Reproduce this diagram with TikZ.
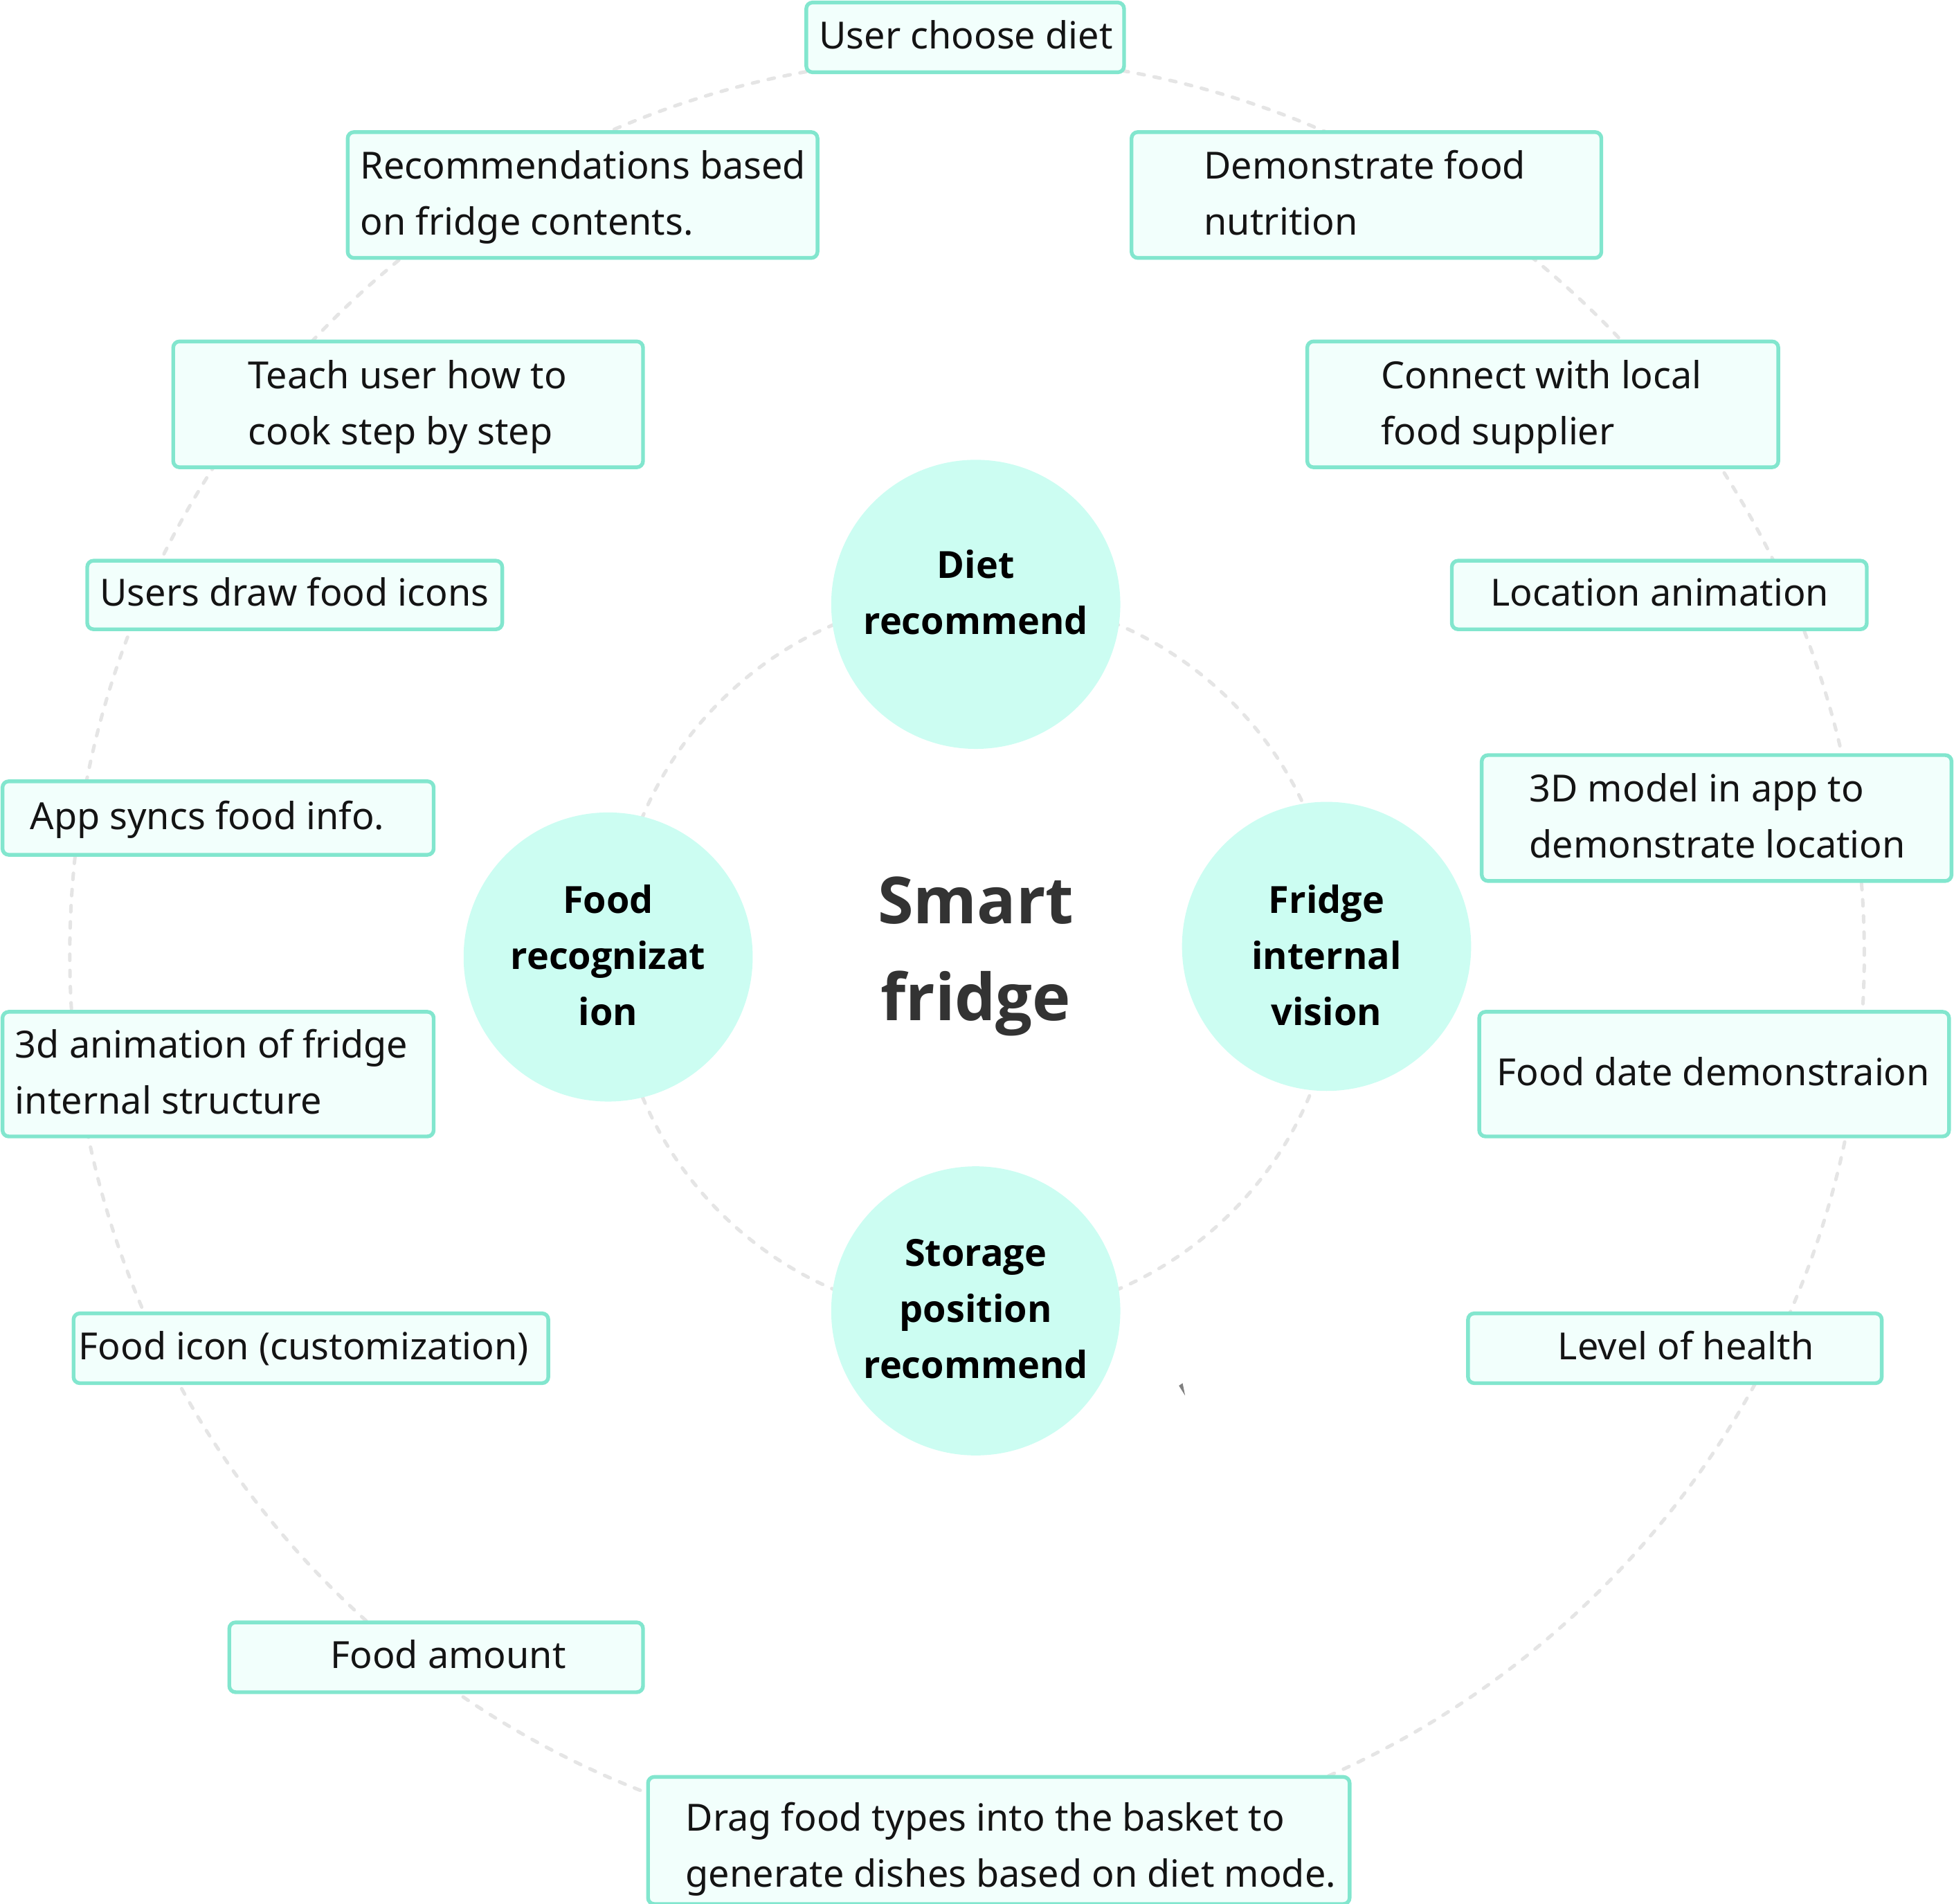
\documentclass[tikz,border=0pt]{standalone}
\usepackage{fontspec}
\setmainfont{Noto Sans}
\newfontfamily\hubfont{Open Sans}
\usetikzlibrary{positioning}
\definecolor{cardline}{RGB}{130,230,206}
\definecolor{cardfill}{RGB}{242,255,252}
\definecolor{hubfill}{RGB}{204,253,242}
\definecolor{ringgray}{RGB}{229,229,229}
\tikzset{
  card/.style={draw=cardline,fill=cardfill,line width=3pt,rounded corners=5pt,outer sep=0pt,inner sep=0pt},
  cardtext/.style={inner sep=0pt,align=left,text=black!92,font=\fontsize{30}{45}\selectfont,
    execute at begin node=\strut,execute at end node=\strut},
  twoline/.style={yshift=-5pt},
  hub/.style={circle,fill=hubfill,minimum size=232pt,inner sep=0pt},
  hubtext/.style={inner sep=0pt,align=center,text=black,font=\hubfont\fontsize{30}{45}\selectfont\bfseries,
    execute at begin node=\strut,execute at end node=\strut,yshift=-6pt},
  ring/.style={draw=ringgray,line width=2.8pt,line cap=round,dash pattern=on 5pt off 8pt},
}

\begin{document}
\begin{tikzpicture}[x=1pt,y=-1pt]
\useasboundingbox (0,0) rectangle (1568,1528);
% dashed rings
\draw[ring] (776,766) circle [radius=720pt];
\draw[ring] (783,768) circle [radius=290pt];
% the four hubs
\node[hub] (diet) at (783,485) {};
\node[hub] (recog) at (488,768) {};
\node[hub] (vision) at (1064.5,759.5) {};
\node[hub] (storage) at (783,1052) {};
\node[hubtext] (diettext) at (783,476) {Diet\\recommend};
\node[hubtext] (recogtext) at (488,767) {Food\\recognizat\\ion};
\node[hubtext] (visiontext) at (1064.5,767) {Fridge\\internal\\vision};
\node[hubtext] (storagetext) at (783,1051) {Storage\\position\\recommend};
\node[inner sep=0pt,align=center,text=black!80,font=\hubfont\fontsize{52}{78}\selectfont\bfseries,
  execute at begin node=\strut,execute at end node=\strut] (title) at (783,773) {Smart\\fridge};
% outer cards
\node[card,minimum width=255pt,minimum height=56pt] (userbox) at (774.5,30) {};
\node[cardtext,right=10pt of userbox.west] (usertext) {User choose diet};
\node[card,minimum width=377pt,minimum height=101pt] (recbox) at (467.5,156.5) {};
\node[cardtext,twoline,right=10pt of recbox.west] (rectext) {Recommendations based\\on fridge contents.};
\node[card,minimum width=377pt,minimum height=101pt] (nutribox) at (1096.5,156.5) {};
\node[cardtext,twoline,right=58pt of nutribox.west] (nutritext) {Demonstrate food\\nutrition};
\node[card,minimum width=377pt,minimum height=101pt] (cookbox) at (327.5,324.5) {};
\node[cardtext,twoline,right=60pt of cookbox.west] (cooktext) {Teach user how to\\cook step by step};
\node[card,minimum width=378pt,minimum height=101pt] (supplybox) at (1238,324.5) {};
\node[cardtext,twoline,right=59pt of supplybox.west] (supplytext) {Connect with local\\food supplier};
\node[card,minimum width=333pt,minimum height=55pt] (iconbox) at (236.5,477.5) {};
\node[cardtext,right=10pt of iconbox.west] (icontext) {Users draw food icons};
\node[card,minimum width=333pt,minimum height=55pt] (locbox) at (1331.5,477.5) {};
\node[cardtext,right=31pt of locbox.west] (loctext) {Location animation};
\node[card,minimum width=346pt,minimum height=59pt] (syncbox) at (175,656.5) {};
\node[cardtext,right=22pt of syncbox.west] (synctext) {App syncs food info.};
\node[card,minimum width=377pt,minimum height=101pt] (modelbox) at (1377.5,656.5) {};
\node[cardtext,twoline,right=38pt of modelbox.west] (modeltext) {3D model in app to\\demonstrate location};
\node[card,minimum width=346pt,minimum height=100pt] (animbox) at (175,862) {};
\node[cardtext,twoline,right=10pt of animbox.west] (animtext) {3d animation of fridge\\internal structure};
\node[card,minimum width=377pt,minimum height=100pt] (datebox) at (1375.5,862) {};
\node[cardtext,right=14pt of datebox.west] (datetext) {Food date demonstraion};
\node[card,minimum width=381pt,minimum height=56pt] (custbox) at (249.5,1082) {};
\node[cardtext,right=4pt of custbox.west] (custtext) {Food icon (customization)};
\node[card,minimum width=332pt,minimum height=56pt] (healthbox) at (1344,1082) {};
\node[cardtext,right=72pt of healthbox.west] (healthtext) {Level of health};
\node[card,minimum width=332pt,minimum height=56pt] (amountbox) at (350,1330) {};
\node[cardtext,right=81pt of amountbox.west] (amounttext) {Food amount};
\node[card,minimum width=563pt,minimum height=102pt] (dragbox) at (801.5,1477) {};
\node[cardtext,twoline,yshift=-5pt,right=30pt of dragbox.west] (dragtext) {Drag food types into the basket to\\generate dishes based on diet mode.};
% stray mark
\fill[gray] (946,1112) -- (949,1110) -- (951,1120) -- cycle;
\end{tikzpicture}
\end{document}
